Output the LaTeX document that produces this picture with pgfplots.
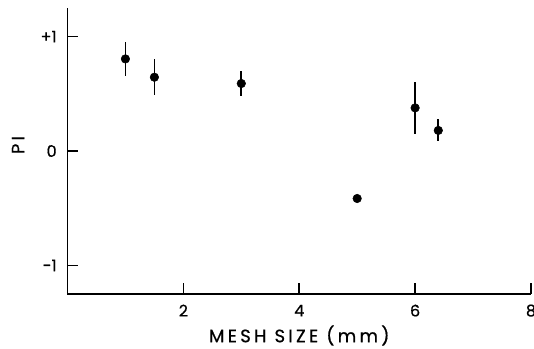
\documentclass[border=0pt]{standalone}
\usepackage{fontspec}
\setmainfont{Poppins}[FakeBold=0.6]
\usepackage{pgfplots}
\pgfplotsset{compat=1.18}
\begin{document}
\begin{tikzpicture}
\begin{axis}[
  name=ax,
  scale only axis,
  width=347.6pt, height=214.5pt,
  xmin=0, xmax=8, ymin=-1.25, ymax=1.25,
  axis lines*=left,
  axis line style={line width=1.4pt},
  tick align=inside,
  major tick length=8pt,
  every tick/.style={black, line width=1.2pt},
  xtick={2,4,6,8},
  ytick={-1,0,1},
  yticklabels={-1,0,+1},
  xticklabels={2,4,6,8},
  tick label style={font=\fontsize{12}{14}\selectfont},
  xticklabel style={anchor=center, yshift=-12.4pt},
  yticklabel style={anchor=east, inner sep=0pt, xshift=-7.9pt},
  xlabel={MESH SIZE (mm)},
  ylabel={PI},
  label style={font=\fontsize{13.5}{15}\selectfont\addfontfeature{LetterSpace=18}},
  xlabel style={at={(axis description cs:0.5,-0.145)}, anchor=center},
  ylabel style={at={(axis description cs:-0.1065,0.521)}, anchor=center},
  clip=false,
]
\addplot[only marks, mark=*, mark size=3.2pt, black,
  error bars/.cd, y dir=both, y explicit, error mark=none,
  error bar style={line width=1.2pt, black}]
  table[x=x, y=y, y error=e] {
x y e
1.0 0.805 0.15
1.5 0.645 0.155
3.0 0.59 0.11
5.0 -0.415 0
6.0 0.377 0.228
6.4 0.18 0.096
};
\end{axis}
\pgfresetboundingbox
\path[use as bounding box] ([xshift=-50.6pt,yshift=-40.5pt]ax.south west) rectangle ([xshift=2.25pt,yshift=6pt]ax.north east);
\end{tikzpicture}
\end{document}
